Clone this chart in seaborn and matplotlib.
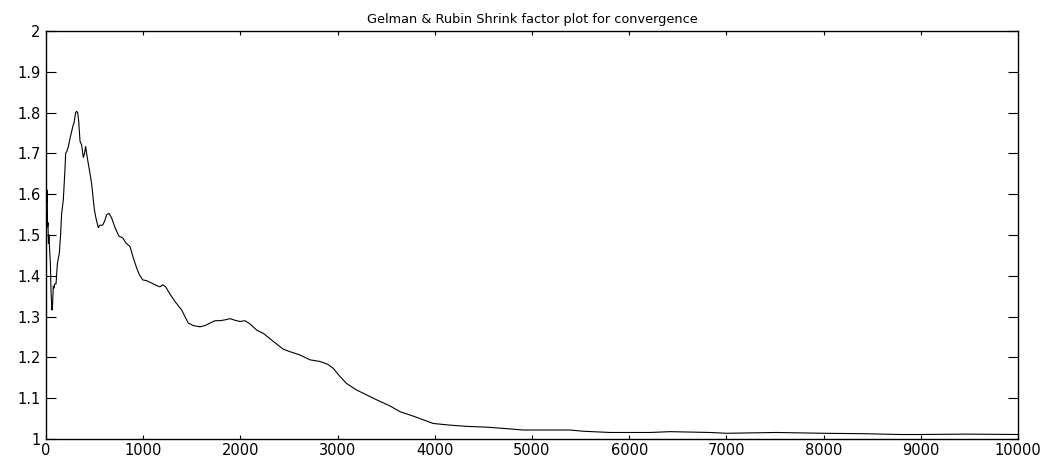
import numpy as np
import pandas as pd
import matplotlib
matplotlib.use("Agg")
import matplotlib.pyplot as plt
import seaborn as sns

# ---- data ----
iterations = [0, 4, 8, 12, 16, 20, 25, 30, 38, 45, 52, 58, 62, 68, 75, 82, 90, 103, 117, 137,
              150, 161, 178, 195, 202, 215, 230, 250, 264, 280, 288, 298, 305, 315, 326, 336,
              350, 367, 384, 396, 408, 418, 435, 453, 470, 485, 497, 515, 538, 555, 583, 605,
              624, 648, 675, 710, 751, 789, 823, 864, 898, 933, 960, 995, 1036, 1088, 1139,
              1173, 1200, 1231, 1276, 1327, 1396, 1430, 1464, 1516, 1584, 1636, 1687, 1739,
              1790, 1842, 1893, 1944, 1996, 2047, 2099, 2167, 2236, 2339, 2442, 2510, 2613,
              2716, 2819, 2900, 2956, 3025, 3093, 3196, 3299, 3402, 3539, 3642, 3779, 3882,
              3985, 4156, 4328, 4534, 4705, 4911, 5391, 5528, 5802, 6214, 6420, 6831, 7003,
              7517, 7997, 8409, 8786, 8992, 9472, 10000]
shrink_factor = [2.0, 1.62, 1.58, 1.61, 1.52, 1.53, 1.48, 1.50, 1.46, 1.43, 1.36, 1.33, 1.316,
                 1.33, 1.375, 1.37, 1.38, 1.38, 1.43, 1.455, 1.50, 1.553, 1.586, 1.66, 1.70,
                 1.705, 1.717, 1.74, 1.754, 1.77, 1.774, 1.79, 1.80, 1.803, 1.80, 1.78, 1.73,
                 1.72, 1.69, 1.70, 1.717, 1.70, 1.675, 1.65, 1.625, 1.59, 1.563, 1.54, 1.518,
                 1.524, 1.524, 1.535, 1.55, 1.553, 1.542, 1.518, 1.497, 1.493, 1.48, 1.472,
                 1.444, 1.419, 1.403, 1.39, 1.388, 1.382, 1.376, 1.373, 1.378, 1.373, 1.355,
                 1.337, 1.316, 1.30, 1.284, 1.278, 1.275, 1.278, 1.284, 1.29, 1.29, 1.292,
                 1.295, 1.291, 1.288, 1.29, 1.282, 1.267, 1.259, 1.239, 1.22, 1.214, 1.206,
                 1.194, 1.19, 1.183, 1.173, 1.153, 1.136, 1.12, 1.108, 1.096, 1.081, 1.067,
                 1.056, 1.047, 1.038, 1.034, 1.031, 1.029, 1.026, 1.022, 1.022, 1.019, 1.016,
                 1.016, 1.018, 1.016, 1.014, 1.016, 1.014, 1.013, 1.011, 1.011, 1.012, 1.011]

x_ticks = [0, 1000, 2000, 3000, 4000, 5000, 6000, 7000, 8000, 9000, 10000]
x_tick_labels = ["0", "1000", "2000", "3000", "4000", "5000", "6000", "7000", "8000", "9000", "10000"]
y_ticks = [1.0, 1.1, 1.2, 1.3, 1.4, 1.5, 1.6, 1.7, 1.8, 1.9, 2.0]
y_tick_labels = ["1", "1.1", "1.2", "1.3", "1.4", "1.5", "1.6", "1.7", "1.8", "1.9", "2"]
title = "Gelman & Rubin Shrink factor plot for convergence"

# ---- plot ----
sns.set_style("white")
plt.rcParams["font.family"] = ["DejaVu Sans"]
plt.rcParams["text.color"] = "black"
plt.rcParams["xtick.color"] = "black"
plt.rcParams["ytick.color"] = "black"

fig = plt.figure(figsize=(10.54, 4.63), dpi=100)
ax = fig.add_axes([46 / 1054, 1 - 439 / 463, (1018 - 46) / 1054, (439 - 31) / 463])

df = pd.DataFrame({"iteration": iterations, "R": shrink_factor})
sns.lineplot(data=df, x="iteration", y="R", color="black", linewidth=0.8,
             estimator=None, sort=False, ax=ax)

ax.set_xlim(0, 10000)
ax.set_ylim(1, 2)
ax.set_xticks(x_ticks)
ax.set_xticklabels(x_tick_labels)
ax.set_yticks(y_ticks)
ax.set_yticklabels(y_tick_labels)
ax.set_xlabel("")
ax.set_ylabel("")
ax.set_title(title, fontsize=9.3, pad=6, color="black")

for s in ax.spines.values():
    s.set_visible(True)
    s.set_color("black")
    s.set_linewidth(1.0)

ax.tick_params(axis="x", direction="in", top=True, bottom=True, length=3,
               width=0.8, color="black", labelcolor="black", labelsize=10.5, pad=3)
ax.tick_params(axis="y", direction="in", left=True, right=True, length=7,
               width=0.8, color="black", labelcolor="black", labelsize=10.5, pad=4)

fig.savefig("out.png", dpi=100, facecolor="white")
